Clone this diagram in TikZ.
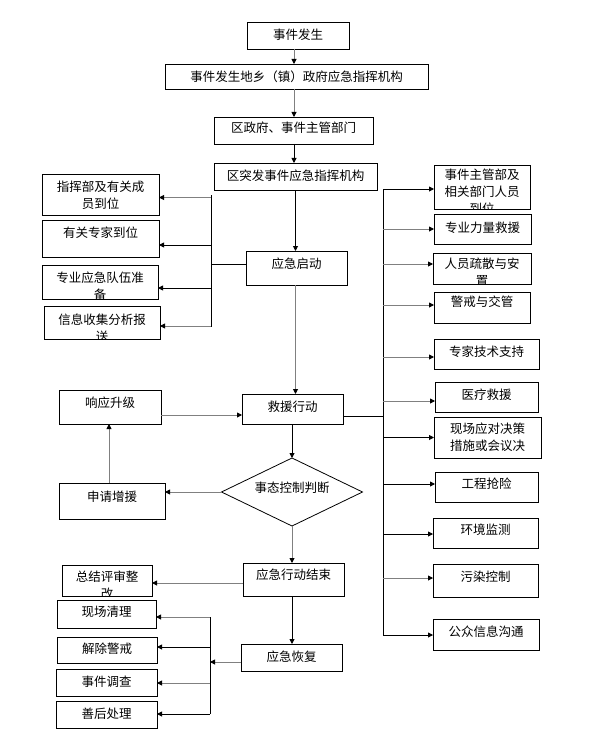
\documentclass[tikz,border=0pt]{standalone}
\usepackage{fontspec}
\newfontfamily\cjk{Noto Sans CJK SC}
\usetikzlibrary{arrows.meta,shapes.geometric,calc}
\tikzset{
  box/.style={draw, line width=0.8pt, inner sep=0pt, outer sep=0pt, rectangle},
  txt/.style={draw=none, inner sep=0pt, anchor=base, font=\cjk\fontsize{12.5pt}{16.5pt}\selectfont},
  ln/.style={line width=0.9pt, draw=black},
  gl/.style={line width=0.9pt, draw=black!50},
  tip/.style={-{Triangle[length=5pt,width=5pt,color=black]}},
}
% #1 first baseline below top, #2 name, #3 x1, #4 y1, #5 x2, #6 y2, #7-#9 lines
\newcommand\mkbox[9][17.5]{%
  \node[box, minimum width={(#5-#3)*1pt}, minimum height={(#6-#4)*1pt},
    path picture={%
      \node[txt] at ([yshift={-(#1)*1pt}]path picture bounding box.north) {#7};
      \if\relax\detokenize{#8}\relax\else
        \node[txt] at ([yshift={-(#1+17)*1pt}]path picture bounding box.north) {#8};\fi
      \if\relax\detokenize{#9}\relax\else
        \node[txt] at ([yshift={-(#1+34)*1pt}]path picture bounding box.north) {#9};\fi
    }]
    (#2) at ({(#3+#5)/2},{(#4+#6)/2}) {};}
\newcommand\toL[4]{\draw[#1,tip] ($(#3.east -| #2)+(0,#4)$) -- ($(#3.east)+(0,#4)$);}
\newcommand\toR[4]{\draw[#1,tip] ($(#3.west -| #2)+(0,#4)$) -- ($(#3.west)+(0,#4)$);}
\begin{document}
\begin{tikzpicture}[x=1pt,y=-1pt]
\fill[white] (0,0) rectangle (589,738);
\useasboundingbox (0,0) rectangle (589,738);

% main column
\mkbox[17.7]{e1}{247}{22}{349}{49}{事件发生}{}{}
\mkbox[17.7]{e2}{165}{64}{428}{89}{事件发生地乡（镇）政府应急指挥机构}{}{}
\mkbox[16]{e3}{214}{117}{373}{144}{区政府、事件主管部门}{}{}
\mkbox[17.4]{e4}{214}{163}{377}{190}{区突发事件应急指挥机构}{}{}
\mkbox[17]{qd}{246}{251}{347}{285}{应急启动}{}{}
\mkbox[17.7]{jy}{242}{394}{343}{424}{救援行动}{}{}
\node[draw, diamond, line width=0.8pt, minimum width=141pt, minimum height=68pt,
  inner sep=0pt, outer sep=0pt,
  path picture={\node[txt] at ([yshift=-0.3pt]path picture bounding box.center) {事态控制判断};}]
  (dm) at (292,492) {};
\mkbox[16.7]{js}{243}{563}{344}{596}{应急行动结束}{}{}
\mkbox[17.7]{hf}{241}{644}{342}{671}{应急恢复}{}{}

% left column
\mkbox[17.4]{L1}{42}{174}{159}{215}{指挥部及有关成}{员到位}{}
\mkbox[17.7]{L2}{42}{220}{159}{257}{有关专家到位}{}{}
\mkbox[17.7]{L3}{42}{265}{158}{299}{专业应急队伍准}{备}{}
\mkbox[18.7]{L4}{44}{306}{160}{339}{信息收集分析报}{送}{}
\mkbox[17.7]{xs}{59}{390}{161}{424}{响应升级}{}{}
\mkbox[18.7]{sq}{59}{483}{165}{519}{申请增援}{}{}
\mkbox[16.7]{zj}{62}{565}{152}{596}{总结评审整}{改}{}
\mkbox[16.4]{B1}{57}{600}{156}{628}{现场清理}{}{}
\mkbox[16]{B2}{57}{637}{157}{663}{解除警戒}{}{}
\mkbox[17.4]{B3}{56}{669}{157}{696}{事件调查}{}{}
\mkbox[17]{B4}{56}{701}{157}{728}{善后处理}{}{}

% right column
\mkbox[14.7]{R1}{434}{165}{530}{209}{事件主管部及}{相关部门人员}{到位}
\mkbox[18.4]{R2}{434}{214}{531}{244}{专业力量救援}{}{}
\mkbox[15.7]{R3}{433}{253}{531}{284}{人员疏散与安}{置}{}
\mkbox[14.4]{R4}{434}{292}{530}{323}{警戒与交管}{}{}
\mkbox[17.4]{R5}{434}{339}{539}{369}{专家技术支持}{}{}
\mkbox[17.7]{R6}{435}{382}{538}{412}{医疗救援}{}{}
\mkbox[16.7]{R7}{434}{417}{541}{458}{现场应对决策}{措施或会议决}{}
\mkbox[16.7]{R8}{435}{472}{538}{502}{工程抢险}{}{}
\mkbox[16.7]{R9}{433}{518}{538}{548}{环境监测}{}{}
\mkbox[17.4]{R10}{433}{564}{538}{597}{污染控制}{}{}
\mkbox[17.4]{R11}{433}{619}{539}{650}{公众信息沟通}{}{}

% main axis connectors
\coordinate (ax) at (294,0);
\coordinate (ax2) at (295.5,0);
\draw[gl,tip] (e1.south -| ax) -- (e2.north -| ax);
\draw[gl,tip] (e2.south -| ax) -- (e3.north -| ax);
\draw[ln,tip] (e3.south -| ax) -- (e4.north -| ax);
\draw[ln,tip] (e4.south -| ax2) -- (qd.north -| ax2);
\draw[gl,tip] (qd.south -| ax2) -- (jy.north -| ax2);
\draw[ln,tip] (jy.south -| dm.north) -- (dm.north);
\draw[gl,tip] (dm.south) -- (js.north -| dm.south);
\draw[ln,tip] (js.south -| dm.south) -- (hf.north -| dm.south);

% left bracket (top)
\coordinate (lbt) at (211,195);
\coordinate (lbb) at (211,327);
\draw[ln] (lbt) -- (lbb);
\draw[ln] ($(qd.west)+(0,-4)$) -- ($(qd.west -| lbt)+(0,-4)$);
\toL{gl}{lbt}{L1}{3}
\toL{ln}{lbt}{L2}{6.5}
\toL{ln}{lbt}{L3}{6}
\toL{gl}{lbt}{L4}{3.5}

% right bracket
\coordinate (rbt) at (383,189);
\coordinate (rbb) at (383,635);
\draw[ln] (rbt) -- (rbb);
\draw[ln] ($(jy.east)+(0,7)$) -- ($(jy.east -| rbt)+(0,7)$);
\toR{ln}{rbt}{R1}{2}
\toR{gl}{rbt}{R2}{0}
\toR{gl}{rbt}{R3}{-4.5}
\toR{gl}{rbt}{R4}{-2.5}
\toR{gl}{rbt}{R5}{3}
\toR{gl}{rbt}{R6}{4}
\toR{ln}{rbt}{R7}{0}
\toR{ln}{rbt}{R8}{-3}
\toR{ln}{rbt}{R9}{1}
\toR{gl}{rbt}{R10}{-2.5}
\toR{ln}{rbt}{R11}{0.5}

% escalation loop
\coordinate (sx) at (109,0);
\draw[gl,tip] ($(xs.east)+(0,8)$) -- ($(xs.east -| jy.west)+(0,8)$);
\draw[gl,tip] (sq.north -| sx) -- (xs.south -| sx);
\draw[gl,tip] (dm.west) -- (dm.west -| sq.east);

% end / recovery
\draw[gl,tip] ($(js.west)+(0,3.5)$) -- ($(js.west -| zj.east)+(0,3.5)$);
\coordinate (bbt) at (210,617);
\coordinate (bbb) at (210,714);
\draw[ln] (bbt) -- (bbb);
\draw[gl,tip] ($(hf.west)+(0,4.5)$) -- ($(hf.west -| bbt)+(0,4.5)$);
\toL{gl}{bbt}{B1}{3}
\toL{ln}{bbt}{B2}{-3}
\toL{gl}{bbt}{B3}{0.5}
\toL{ln}{bbt}{B4}{-0.5}
\end{tikzpicture}
\end{document}
